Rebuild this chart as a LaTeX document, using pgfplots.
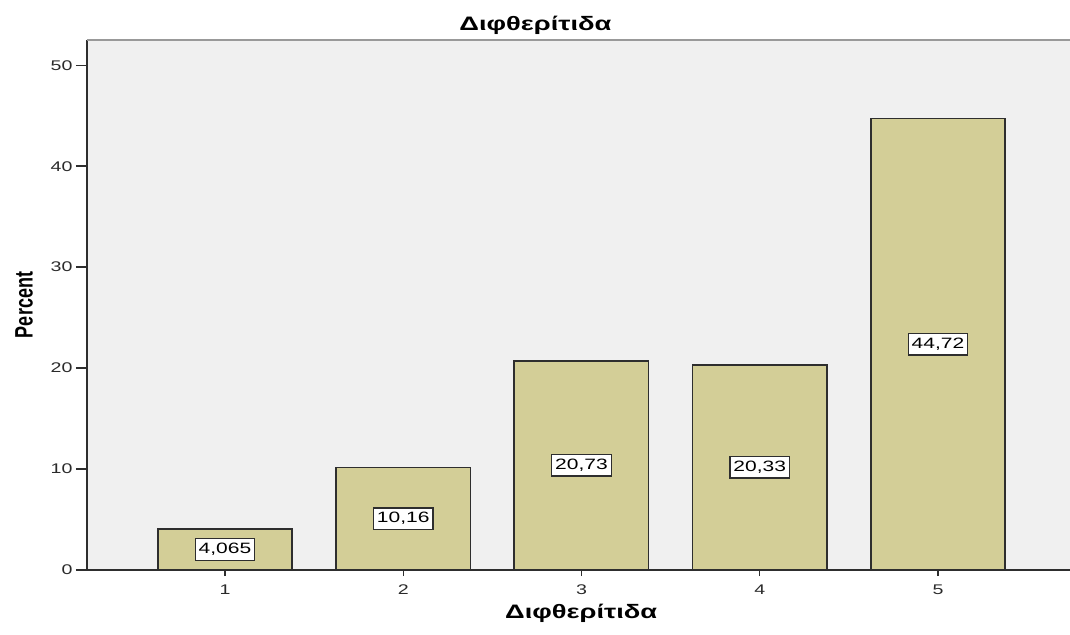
\documentclass[border=0pt]{standalone}
\usepackage{fontspec}
\setmainfont{Liberation Sans}[FakeStretch=1.4]
\newfontfamily\uprightsans{Liberation Sans}
\usepackage{graphicx}
\usepackage{pgfplots}
\pgfplotsset{compat=1.18}
\usepackage{pgfplotstable}

\definecolor{barfill}{HTML}{D3CE97}
\definecolor{panel}{HTML}{F0F0F0}
\definecolor{axisdark}{HTML}{2E2E2E}
\definecolor{ticktext}{HTML}{2A2A2A}

% Percent of cases per category
\pgfplotstableread{
x y lab
1 4.065 4,065
2 10.16 10,16
3 20.73 20,73
4 20.33 20,33
5 44.72 44,72
}\diphtheria

\begin{document}
\begin{tikzpicture}
\useasboundingbox (-87pt,-64pt) rectangle (983pt,570pt);
\begin{axis}[
  at={(0,0)}, anchor=south west,
  scale only axis, width=983pt, height=530pt,
  xmin=0.226, xmax=5.7405, ymin=0, ymax=52.5,
  axis x line*=bottom, axis y line*=left,
  axis line style={axisdark, line width=1.8pt},
  axis background/.style={fill=panel},
  xtick={1,2,3,4,5}, ytick={0,10,20,30,40,50},
  tick align=outside, major tick length=11pt,
  xtick style={/pgfplots/major tick length=6pt},
  tick style={axisdark, line width=1.4pt},
  ticklabel style={font=\fontsize{14}{16}\selectfont, text=ticktext},
  /pgf/number format/assume math mode=true,
  title={\bfseries Διφθερίτιδα},
  title style={font=\fontsize{19.5}{22}\selectfont, at={(axis description cs:0.4562,1.016)}, anchor=center},
  xlabel={\bfseries Διφθερίτιδα},
  xlabel style={font=\fontsize{19.5}{22}\selectfont, at={(axis description cs:0.5027,-0.082)}, anchor=center},
  ylabel={\scalebox{1}[1.4]{\uprightsans\bfseries\fontsize{18}{20}\selectfont Percent}},
  ylabel style={at={(axis description cs:-0.064,0.5)}, anchor=center},
]
\addplot[ybar, bar width=0.754, fill=barfill, draw=axisdark, line width=1.6pt]
  table[x=x, y=y] {\diphtheria};
% value labels at mid-height of each bar
\addplot[draw=none, mark=none, nodes near coords, point meta=explicit symbolic,
  nodes near coords align=center,
  every node near coord/.append style={anchor=center, fill=white, draw=axisdark,
    line width=1.2pt, inner xsep=3.5pt, inner ysep=4.5pt, text=black,
    font=\fontsize{15}{17}\selectfont}]
  table[x=x, y expr=\thisrow{y}/2, meta=lab] {\diphtheria};
% thin upper edge of the plot panel
\draw[gray!80, line width=1.5pt] (rel axis cs:0,1) -- (rel axis cs:1,1);
\end{axis}
\end{tikzpicture}
\end{document}
